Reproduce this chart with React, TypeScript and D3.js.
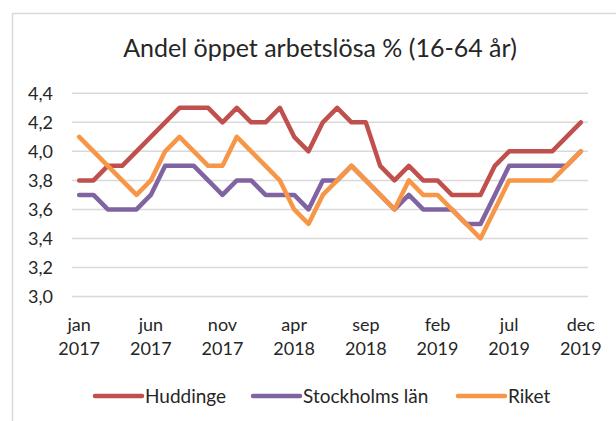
import * as d3 from 'd3';
import { useEffect, useRef } from 'react';

const monthNames = ['jan', 'feb', 'mar', 'apr', 'maj', 'jun', 'jul', 'aug', 'sep', 'okt', 'nov', 'dec'];
const years = ['2017', '2018', '2019'];

// one category per month, jan 2017 .. dec 2019
const categories: string[] = years.flatMap((y) => monthNames.map((m) => `${m} ${y}`));

const huddinge = [3.8, 3.8, 3.9, 3.9, 4.0, 4.1, 4.2, 4.3, 4.3, 4.3, 4.2, 4.3, 4.2, 4.2, 4.3, 4.1, 4.0, 4.2,
    4.3, 4.2, 4.2, 3.9, 3.8, 3.9, 3.8, 3.8, 3.7, 3.7, 3.7, 3.9, 4.0, 4.0, 4.0, 4.0, 4.1, 4.2];
const stockholm = [3.7, 3.7, 3.6, 3.6, 3.6, 3.7, 3.9, 3.9, 3.9, 3.8, 3.7, 3.8, 3.8, 3.7, 3.7, 3.7, 3.6, 3.8,
    3.8, 3.9, 3.8, 3.7, 3.6, 3.7, 3.6, 3.6, 3.6, 3.5, 3.5, 3.7, 3.9, 3.9, 3.9, 3.9, 3.9, 4.0];
const riket = [4.1, 4.0, 3.9, 3.8, 3.7, 3.8, 4.0, 4.1, 4.0, 3.9, 3.9, 4.1, 4.0, 3.9, 3.8, 3.6, 3.5, 3.7,
    3.8, 3.9, 3.8, 3.7, 3.6, 3.8, 3.7, 3.7, 3.6, 3.5, 3.4, 3.6, 3.8, 3.8, 3.8, 3.8, 3.9, 4.0];

const yTicks = [3.0, 3.2, 3.4, 3.6, 3.8, 4.0, 4.2, 4.4];
const xTickEvery = 5;

const seriesNames = ['Huddinge', 'Stockholms län', 'Riket'];
const colors = ['#C0504D', '#8064A2', '#F79646'];

const App = () => {
    const ref = useRef<SVGSVGElement>(null);

    useEffect(() => {
        drawChart();
    }, []);

    const drawChart = () => {
        const width = 616;
        const height = 421;
        const font = 'Lato, sans-serif';
        const textColor = '#262626';

        const svg: any = d3.select(ref.current);
        svg.selectAll('*').remove();

        // chart frame
        svg.append('rect')
            .attr('x', 12.5).attr('y', 13.5)
            .attr('width', width).attr('height', height)
            .attr('fill', '#fff')
            .attr('stroke', '#D9D9D9')
            .attr('stroke-width', 1.5);

        svg.append('text')
            .text('Andel öppet arbetslösa % (16-64 år)')
            .attr('x', 320).attr('y', 57)
            .attr('text-anchor', 'middle')
            .style('font-family', font)
            .style('font-size', '25px')
            .style('fill', textColor);

        const x: any = d3.scalePoint()
            .domain(categories)
            .range([72, 588])
            .padding(0.5);
        const y: any = d3.scaleLinear().domain([3.0, 4.4]).range([296.5, 93.3]);

        // gridlines
        svg.append('g')
            .selectAll('line')
            .data(yTicks)
            .enter()
            .append('line')
            .attr('x1', 72).attr('x2', 588)
            .attr('y1', (d: number) => y(d)).attr('y2', (d: number) => y(d))
            .attr('stroke', '#D9D9D9')
            .attr('stroke-width', 1.5);

        // y labels
        svg.append('g')
            .selectAll('text')
            .data(yTicks)
            .enter()
            .append('text')
            .text((d: number) => d.toFixed(1).replace('.', ','))
            .attr('x', 53).attr('y', (d: number) => y(d))
            .attr('dy', '0.35em')
            .attr('text-anchor', 'end')
            .style('font-family', font)
            .style('font-size', '18px')
            .style('fill', textColor);

        // x labels, two lines
        const xTicks = categories.filter((_, i) => i % xTickEvery === 0);
        const xl = svg.append('g')
            .selectAll('text')
            .data(xTicks)
            .enter()
            .append('text')
            .attr('text-anchor', 'middle')
            .style('font-family', font)
            .style('font-size', '18px')
            .style('fill', textColor);
        xl.append('tspan')
            .attr('x', (d: string) => x(d)).attr('y', 331)
            .text((d: string) => d.split(' ')[0]);
        xl.append('tspan')
            .attr('x', (d: string) => x(d)).attr('y', 355)
            .text((d: string) => d.split(' ')[1]);

        const allSeries = [huddinge, stockholm, riket];
        const line: any = d3.line()
            .x((_: any, i: number) => x(categories[i]))
            .y((d: any) => y(d));

        svg.append('g')
            .selectAll('path')
            .data(allSeries)
            .enter()
            .append('path')
            .attr('d', (d: number[]) => line(d))
            .attr('fill', 'none')
            .attr('stroke', (_: any, i: number) => colors[i])
            .attr('stroke-width', 4.5)
            .attr('stroke-linejoin', 'round')
            .attr('stroke-linecap', 'round');

        // legend
        const legendX = [95, 253, 458];
        const lg = svg.append('g')
            .selectAll('g')
            .data(seriesNames)
            .enter()
            .append('g')
            .attr('transform', (_: any, i: number) => `translate(${legendX[i]},396)`);
        lg.append('line')
            .attr('x1', 0).attr('x2', 47)
            .attr('stroke', (_: any, i: number) => colors[i])
            .attr('stroke-width', 4.5)
            .attr('stroke-linecap', 'round');
        lg.append('text')
            .text((d: string) => d)
            .attr('x', 50)
            .attr('dy', '0.35em')
            .style('font-family', font)
            .style('font-size', '19px')
            .style('fill', textColor);
    };

    return (
        <svg ref={ref} width={616} height={421}
            style={{ position: 'absolute', left: 0, top: 0, background: '#fff' }} />
    );
};

export default App;
